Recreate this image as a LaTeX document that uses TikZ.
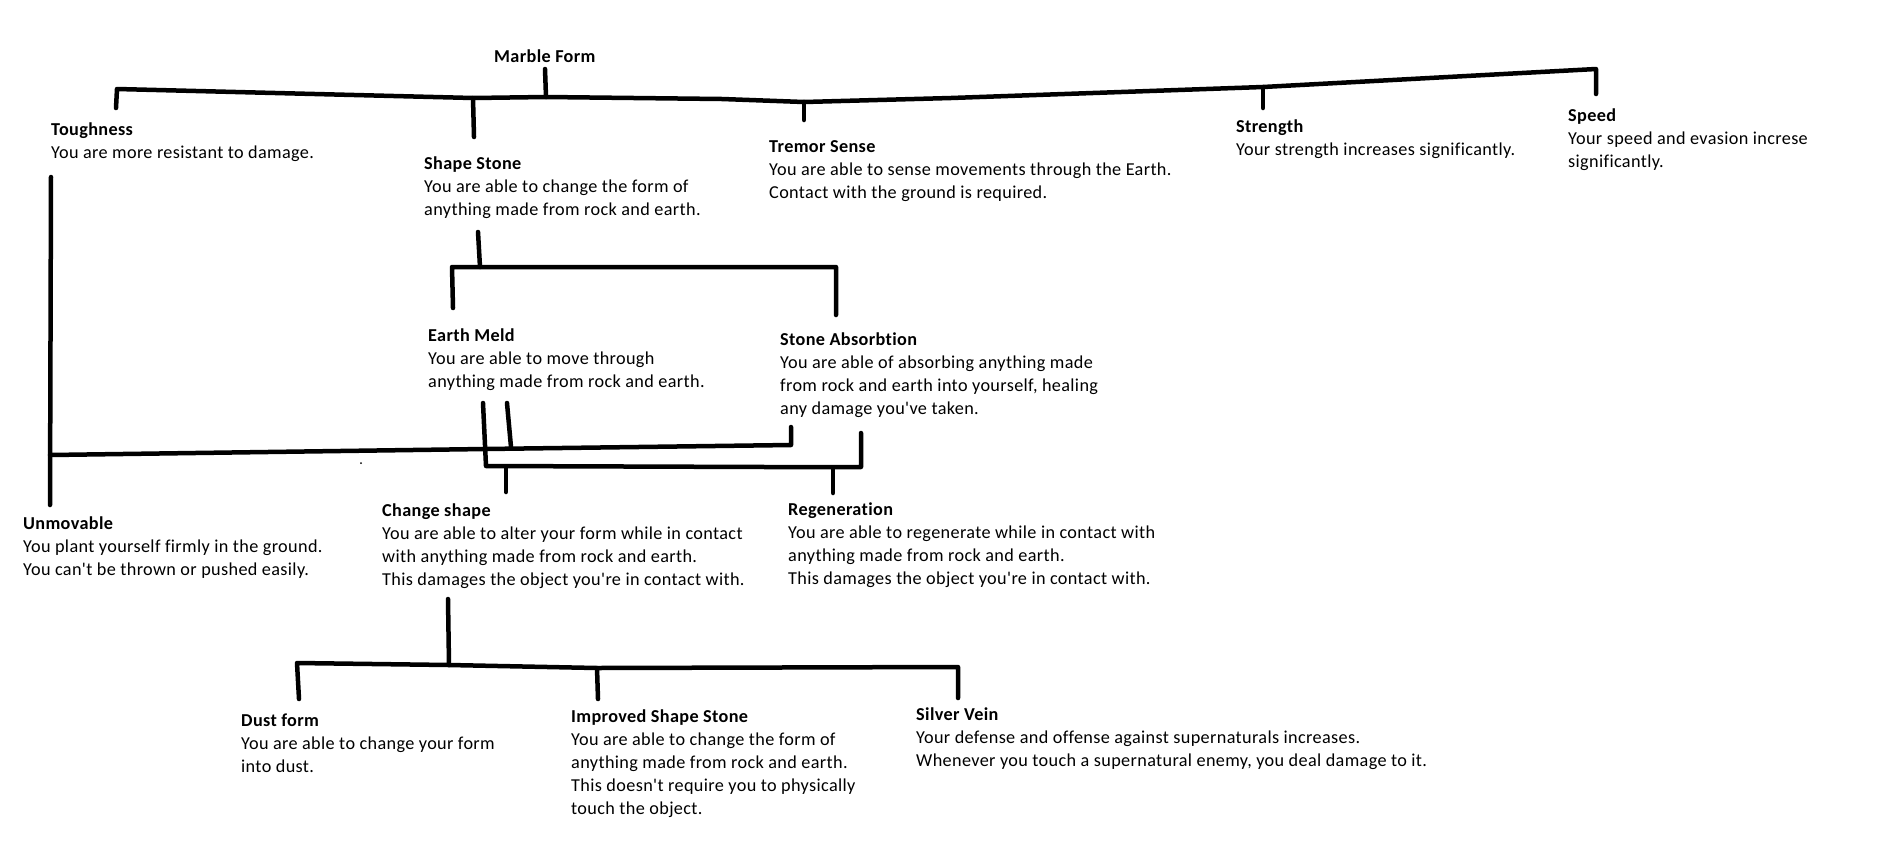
\documentclass[tikz,border=0pt]{standalone}
\usepackage{fontspec}
\setmainfont{Carlito}[LetterSpace=2.0, Ligatures={TeXOff,NoCommon}]
\tikzset{
  conn/.style={line width=4.5pt, line cap=round, line join=round},
  skill/.style={anchor=north west, inner sep=0pt, align=left, font=\fontsize{18.2}{23}\selectfont},
}
\newcommand{\sktitle}[1]{\rule{0pt}{17pt}\textbf{#1}}
\begin{document}
\begin{tikzpicture}[x=1pt,y=-1pt]
\fill[white] (0,0) rectangle (1902,844);
\useasboundingbox (0,0) rectangle (1902,844);
% nodes (y = title baseline - 17)
\node[skill] (mf) at (494,45) {\sktitle{Marble Form}};
\node[skill] (tough) at (51,118) {\sktitle{Toughness}\\You are more resistant to damage.};
\node[skill] (shape) at (424,152) {\sktitle{Shape Stone}\\You are able to change the form of\\anything made from rock and earth.};
\node[skill] (tremor) at (769,135) {\sktitle{Tremor Sense}\\You are able to sense movements through the Earth.\\Contact with the ground is required.};
\node[skill] (strength) at (1236,115) {\sktitle{Strength}\\Your strength increases significantly.};
\node[skill] (speed) at (1568,104) {\sktitle{Speed}\\Your speed and evasion increse\\significantly.};
\node[skill] (meld) at (428,324) {\sktitle{Earth Meld}\\You are able to move through\\anything made from rock and earth.};
\node[skill] (absorb) at (780,328) {\sktitle{Stone Absorbtion}\\You are able of absorbing anything made\\from rock and earth into yourself, healing\\any damage you've taken.};
\node[skill] (unmov) at (23,512) {\sktitle{Unmovable}\\You plant yourself firmly in the ground.\\You can't be thrown or pushed easily.};
\node[skill] (change) at (382,499) {\sktitle{Change shape}\\You are able to alter your form while in contact\\with anything made from rock and earth.\\This damages the object you're in contact with.};
\node[skill] (regen) at (788,498) {\sktitle{Regeneration}\\You are able to regenerate while in contact with\\anything made from rock and earth.\\This damages the object you're in contact with.};
\node[skill] (dust) at (241,709) {\sktitle{Dust form}\\You are able to change your form\\into dust.};
\node[skill] (improved) at (571,705) {\sktitle{Improved Shape Stone}\\You are able to change the form of\\anything made from rock and earth.\\This doesn't require you to physically\\touch the object.};
\node[skill] (silver) at (916,703) {\sktitle{Silver Vein}\\Your defense and offense against supernaturals increases.\\Whenever you touch a supernatural enemy, you deal damage to it.};
% coordinates of the hand drawn connectors
\coordinate (mfa) at (545,69);
\coordinate (mfb) at (546,97);
\coordinate (tA) at (116,108);
\coordinate (tB) at (117,89);
\coordinate (ssA) at (473,98);
\coordinate (ssB) at (474,137);
\coordinate (trA) at (804,102);
\coordinate (trB) at (804,120);
\coordinate (stA) at (1263,87);
\coordinate (stB) at (1263,108);
\coordinate (spA) at (1596,69);
\coordinate (spB) at (1596,94);
\draw[conn] (mfa) -- (mfb);
\draw[conn] (tA) -- (tB) -- (ssA) -- (mfb) -- (722,99) -- (trA) -- (951,98) -- (stA) -- (spA) -- (spB);
\draw[conn] (ssA) -- (ssB);
\draw[conn] (trA) -- (trB);
\draw[conn] (stA) -- (stB);
% shape stone branch
\coordinate (shA) at (478,232);
\coordinate (shB) at (480,267);
\coordinate (brL) at (452,267);
\coordinate (brR) at (836,267);
\coordinate (emT) at (453,308);
\coordinate (saT) at (836,315);
\draw[conn] (shA) -- (shB);
\draw[conn] (emT) -- (brL) -- (brR) -- (saT);
% toughness to unmovable
\coordinate (tlT) at (51,177);
\coordinate (tlB) at (50,505);
\coordinate (tlJ) at (50,455);
\coordinate (upA) at (485,449);
\coordinate (upB) at (791,445);
\coordinate (upC) at (791,427);
\draw[conn] (tlT) -- (tlB);
\draw[conn] (tlJ) -- (upA) -- (upB) -- (upC);
% earth meld / stone absorbtion to change shape / regeneration
\coordinate (emA) at (483,403);
\coordinate (emB) at (486,466);
\coordinate (loM) at (767,467);
\coordinate (loR) at (861,467);
\coordinate (saB) at (861,433);
\coordinate (em2A) at (507,403);
\coordinate (em2B) at (511,447);
\draw[conn] (emA) -- (emB) -- (loM) -- (loR) -- (saB);
\draw[conn] (em2A) -- (em2B);
\coordinate (csA) at (506,468);
\coordinate (csB) at (506,492);
\coordinate (rgA) at (833,468);
\coordinate (rgB) at (833,493);
\draw[conn] (csA) -- (csB);
\draw[conn] (rgA) -- (rgB);
\fill[black] (361,463) circle (1pt);
% change shape to bottom row
\coordinate (cbA) at (448,599);
\coordinate (cbB) at (449,665);
\coordinate (dfA) at (297,663);
\coordinate (dfB) at (299,699);
\coordinate (isA) at (597,668);
\coordinate (isB) at (598,699);
\coordinate (svA) at (958,667);
\coordinate (svB) at (958,698);
\draw[conn] (cbA) -- (cbB);
\draw[conn] (dfB) -- (dfA) -- (cbB) -- (isA) -- (svA) -- (svB);
\draw[conn] (isA) -- (isB);
\end{tikzpicture}
\end{document}
